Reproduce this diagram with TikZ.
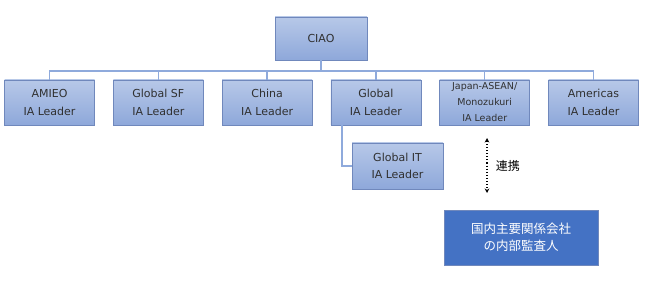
\documentclass[tikz,border=0pt]{standalone}
\usepackage{fontspec}
\setmainfont{DejaVu Sans}
\newfontfamily\jpfont{Noto Sans CJK JP}
\usepackage{xcolor}
\usetikzlibrary{positioning,arrows.meta}

\definecolor{boxtop}{HTML}{B7C8E8}
\definecolor{boxbot}{HTML}{8EA8DA}
\definecolor{boxline}{HTML}{7088BC}
\definecolor{linkblue}{HTML}{8FAADC}
\definecolor{auditblue}{HTML}{4472C4}
\definecolor{txtgray}{HTML}{303030}

\begin{document}
\begin{tikzpicture}[
    x=1pt, y=-1pt,
    every node/.style={font=\fontsize{11}{17.5}\selectfont, text=txtgray},
    leader/.style={draw=boxline, rectangle, minimum width=90pt, minimum height=45pt, align=center, top color=boxtop, bottom color=boxbot, line width=0.8pt, inner sep=0pt},
    audit/.style={draw=boxline, rectangle, minimum width=154pt, minimum height=55pt, align=center, fill=auditblue, text=white, line width=0.8pt, font=\jpfont\fontsize{12.5}{17}\selectfont},
    link/.style={draw=linkblue, line width=1.5pt},
    coop/.style={{Stealth[length=4.5pt,width=4.5pt]}-{Stealth[length=4.5pt,width=4.5pt]}, dotted, line width=1.1pt, black}
]
    \useasboundingbox (0,0) rectangle (645,283);

    % Top
    \node (ciao) [leader, minimum width=92pt, minimum height=43pt] at (321,38.5) {CIAO};

    % Regional leaders
    \node (amieo) [leader] at (49.5,102.5) {AMIEO\\IA Leader};
    \node (globalsf) [leader, right=18pt of amieo] {Global SF\\IA Leader};
    \node (china) [leader, right=18pt of globalsf] {China\\IA Leader};
    \node (globalia) [leader, right=18pt of china] {Global\\IA Leader};
    \node (japan) [leader, right=18pt of globalia, font=\fontsize{9.5}{16}\selectfont] {Japan-ASEAN/\\Monozukuri\\IA Leader};
    \node (americas) [leader, right=18pt of japan] {Americas\\IA Leader};

    \node (globalit) [leader, minimum width=91pt, minimum height=46pt] at (397.5,166) {Global IT\\IA Leader};

    % Domestic auditors
    \node (audit) [audit] at (521,237.5) {国内主要関係会社\\の内部監査人};

    % Bus lines
    \coordinate (bus) at (321,71);
    \draw [link] (ciao.south) -- (bus);
    \draw [link] (amieo.north) |- (bus) -| (americas.north);
    \draw [link] (globalsf.north) -- (globalsf.north |- bus);
    \draw [link] (china.north) -- (china.north |- bus);
    \draw [link] (globalia.north) -- (globalia.north |- bus);
    \draw [link] (japan.north) -- (japan.north |- bus);

    \draw [link] ([xshift=-34pt]globalia.south) |- (globalit.west);

    % Cooperation
    \coordinate (cooptop) at (487,138);
    \coordinate (coopbot) at (487,193);
    \draw [coop] (cooptop) -- node[right=5pt, text=black, font=\jpfont\fontsize{12}{14}\selectfont] {連携} (coopbot);

\end{tikzpicture}
\end{document}
